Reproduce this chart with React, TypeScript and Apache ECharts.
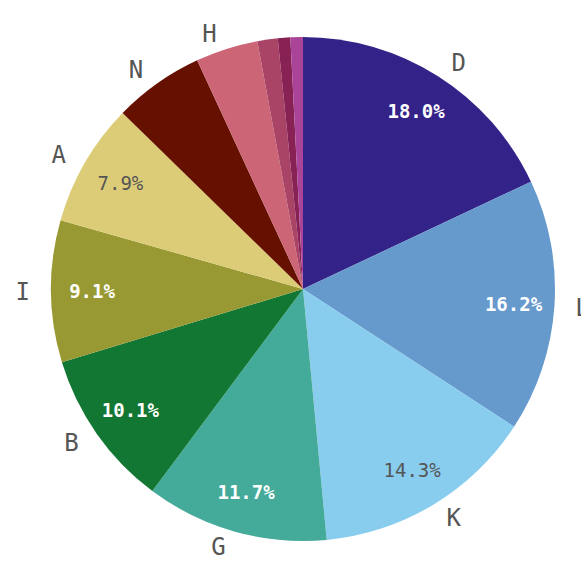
import React, { useEffect, useRef } from "react";
import * as echarts from "echarts";

const categories = ["D", "L", "K", "G", "B", "I", "A", "N", "H", "J", "C", "E"];
const values = [18.0, 16.2, 14.3, 11.7, 10.1, 9.1, 7.9, 5.8, 4.0, 1.3, 0.8, 0.8];
const colors = [
  "#332288", "#6699CC", "#88CCEE", "#44AA99", "#117733", "#999933",
  "#DDCC77", "#661100", "#CC6677", "#AA4466", "#882255", "#AA4499",
];
const darkText = ["K", "A"];
const outerHidden = ["J", "C", "E"];
const innerMin = 7;

export default function App() {
  const ref = useRef<HTMLDivElement>(null);
  useEffect(() => {
    if (!ref.current) return;
    const chart = echarts.init(ref.current, null, { renderer: "svg" });
    const mainData = categories.map((c, i) => ({
      name: c,
      value: values[i],
      itemStyle: { color: colors[i] },
      label: { show: !outerHidden.includes(c) },
    }));
    const innerData = categories.map((c, i) => ({
      name: c,
      value: values[i],
      label: {
        show: values[i] >= innerMin,
        color: darkText.includes(c) ? "#555555" : "#ffffff",
        fontWeight: darkText.includes(c) ? "normal" : "bold",
      },
    }));
    chart.setOption({
      animation: false,
      backgroundColor: "#ffffff",
      series: [
        {
          type: "pie",
          center: [303, 289],
          radius: [0, 252],
          startAngle: 90,
          clockwise: true,
          avoidLabelOverlap: false,
          silent: true,
          data: mainData,
          label: {
            position: "outside",
            color: "#555555",
            fontFamily: "DejaVu Sans Mono",
            fontSize: 24,
            formatter: "{b}",
          },
          labelLine: { show: false, length: 16, length2: 0 },
          itemStyle: { borderWidth: 0 },
        },
        {
          type: "pie",
          center: [303, 289],
          radius: [164, 252],
          startAngle: 90,
          clockwise: true,
          avoidLabelOverlap: false,
          silent: true,
          data: innerData,
          itemStyle: { color: "rgba(0,0,0,0)", borderWidth: 0 },
          label: {
            position: "inside",
            fontFamily: "DejaVu Sans Mono",
            fontSize: 19,
            formatter: (p: any) => Number(p.value).toFixed(1) + "%",
          },
          labelLine: { show: false },
        },
      ],
    });
    return () => chart.dispose();
  }, []);
  return (
    <div
      ref={ref}
      style={{ position: "absolute", left: 0, top: 0, width: 581, height: 564 }}
    />
  );
}
